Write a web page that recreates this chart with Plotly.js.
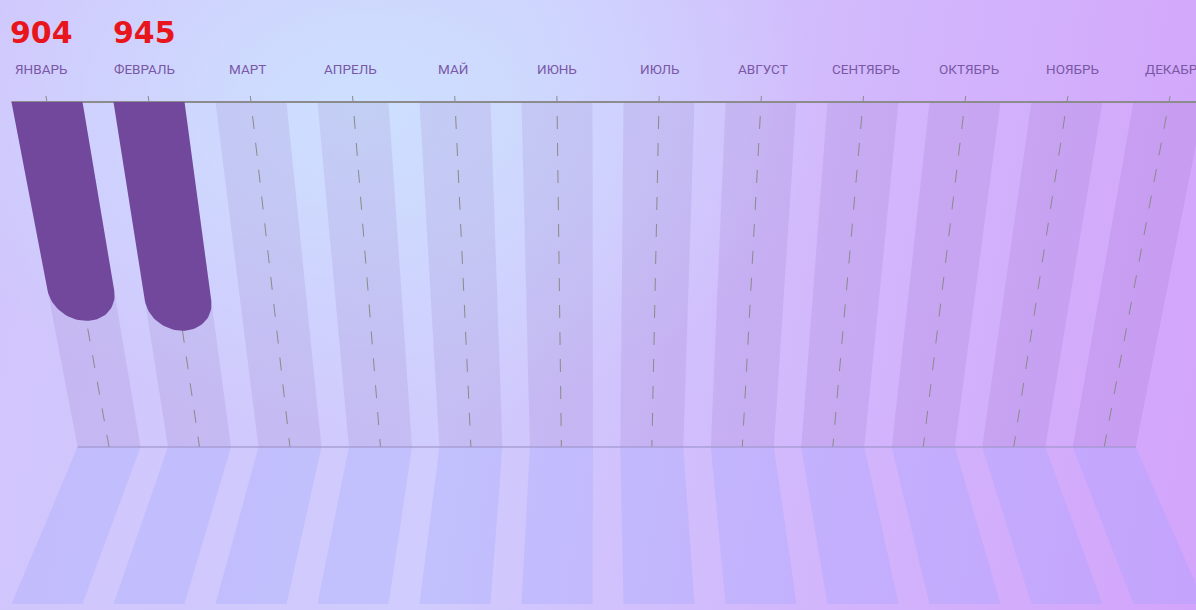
<!DOCTYPE html>
<html>
<head>
<meta charset="utf-8">
<script src="https://cdn.plot.ly/plotly-3.0.1.min.js"></script>
<style>
html,body{margin:0;padding:0;width:1196px;height:610px;overflow:hidden;}
body{
  background:
    radial-gradient(ellipse 460px 320px at 360px 110px, rgba(205,224,255,1) 0%, rgba(205,224,255,0) 100%),
    linear-gradient(100deg, #d1c4fc 0%, #d0ccfd 40%, #d2b6fc 70%, #d3a4fb 100%);
}
#chart{width:1196px;height:610px;}
</style>
</head>
<body>
<div id="chart"></div>
<script>
// ---- data ----
const months = ["ЯНВАРЬ","ФЕВРАЛЬ","МАРТ","АПРЕЛЬ","МАЙ","ИЮНЬ","ИЮЛЬ","АВГУСТ","СЕНТЯБРЬ","ОКТЯБРЬ","НОЯБРЬ","ДЕКАБРЬ"];
const values = [904, 945, null, null, null, null, null, null, null, null, null, null];

// ---- perspective layout constants ----
const WALL = 1425;      // depth of the wall in value units
const FLOOR = 2073.5;   // end of the floor reflection in value units
const HALF = 0.348;     // half width of a column (month units)
const SHRINK = 0.113;   // perspective shrink across the wall
const SHIFT = 0.608;    // perspective shift across the wall
const CAP = 124;        // rounded bar end height (value units)
const LABEL_DEPTH = -136; // label plane (value units, above the wall)

function px(u, v) {
  if (v <= WALL) {
    const t = v / WALL;
    return SHIFT * t + u * (1 - SHRINK * t);
  }
  const xb = SHIFT + u * (1 - SHRINK);
  const f = (v - WALL) / (FLOOR - WALL);
  return xb + (u - xb) * f;
}

function poly(pts) {
  const xs = [], ys = [];
  pts.forEach(p => { xs.push(px(p[0], p[1])); ys.push(p[1]); });
  xs.push(xs[0]); ys.push(ys[0]);
  return [xs, ys];
}

const traces = [];
function addPolys(list, color) {
  let X = [], Y = [];
  list.forEach((pts, k) => {
    const [xs, ys] = poly(pts);
    if (k) { X.push(null); Y.push(null); }
    X = X.concat(xs); Y = Y.concat(ys);
  });
  traces.push({x: X, y: Y, mode: 'lines', fill: 'toself', fillcolor: color,
    line: {width: 0, color: 'rgba(0,0,0,0)'}, hoverinfo: 'skip', showlegend: false});
}
function addLines(list, line) {
  let X = [], Y = [];
  list.forEach((seg, k) => {
    if (k) { X.push(null); Y.push(null); }
    seg.forEach(p => { X.push(px(p[0], p[1])); Y.push(p[1]); });
  });
  traces.push({x: X, y: Y, mode: 'lines', line: line, hoverinfo: 'skip', showlegend: false});
}

const idx = months.map((m, i) => i);

// wall columns
addPolys(idx.map(i => [[i - HALF, 0], [i + HALF, 0], [i + HALF, WALL], [i - HALF, WALL]]), 'rgba(110,60,160,0.10)');
// floor columns
addPolys(idx.map(i => [[i - HALF, WALL], [i + HALF, WALL], [i + HALF, FLOOR], [i - HALF, FLOOR]]), 'rgba(150,160,255,0.25)');
// dashed center lines
addLines(idx.map(i => [[i, 58], [i, WALL]]), {color: '#8a8a8a', width: 1, dash: '13px,14px'});
// ticks above the top line
addLines(idx.map(i => [[i, -25], [i, 0]]), {color: '#8a8a8a', width: 1});
// bottom wall edge
addLines([[[-HALF, WALL], [11 + HALF, WALL]]], {color: 'rgba(160,150,205,0.8)', width: 1.5});
// top axis line
addLines([[[-HALF, 0], [11 + HALF, 0]]], {color: '#8c8c8c', width: 2});

// bars with rounded ends
const bars = [];
values.forEach((val, i) => {
  if (val == null) return;
  const pts = [[i - HALF, 0], [i + HALF, 0], [i + HALF, val - CAP]];
  for (let a = 0; a <= 40; a++) {
    const th = Math.PI * a / 40;
    pts.push([i + HALF * Math.cos(th), val - CAP + CAP * Math.sin(th)]);
  }
  pts.push([i - HALF, 0]);
  bars.push(pts);
});
addPolys(bars, '#72489c');

// labels
const annotations = [];
months.forEach((m, i) => {
  const lx = px(i, LABEL_DEPTH);
  annotations.push({x: lx, y: 1 - 69 / 610, xref: 'x', yref: 'paper', yanchor: 'middle', text: m, showarrow: false,
    font: {family: 'Roboto, sans-serif', size: 13.5, color: '#7a58a6'}});
  if (values[i] != null) {
    annotations.push({x: lx, y: 1 - 33 / 610, xref: 'x', yref: 'paper', yanchor: 'middle', text: String(values[i]), showarrow: false,
      font: {family: '"DejaVu Sans", sans-serif', size: 30, color: '#e8161c', weight: 700}});
  }
});

const layout = {
  width: 1196, height: 610,
  margin: {l: 0, r: 0, t: 0, b: 0},
  paper_bgcolor: 'rgba(0,0,0,0)', plot_bgcolor: 'rgba(0,0,0,0)',
  xaxis: {range: [-47 / 102, 1149 / 102], visible: false, fixedrange: true},
  yaxis: {range: [508 * WALL / 345, -102 * WALL / 345], visible: false, fixedrange: true},
  annotations: annotations,
  showlegend: false
};
Plotly.newPlot('chart', traces, layout, {displayModeBar: false, staticPlot: true});
</script>
</body>
</html>
